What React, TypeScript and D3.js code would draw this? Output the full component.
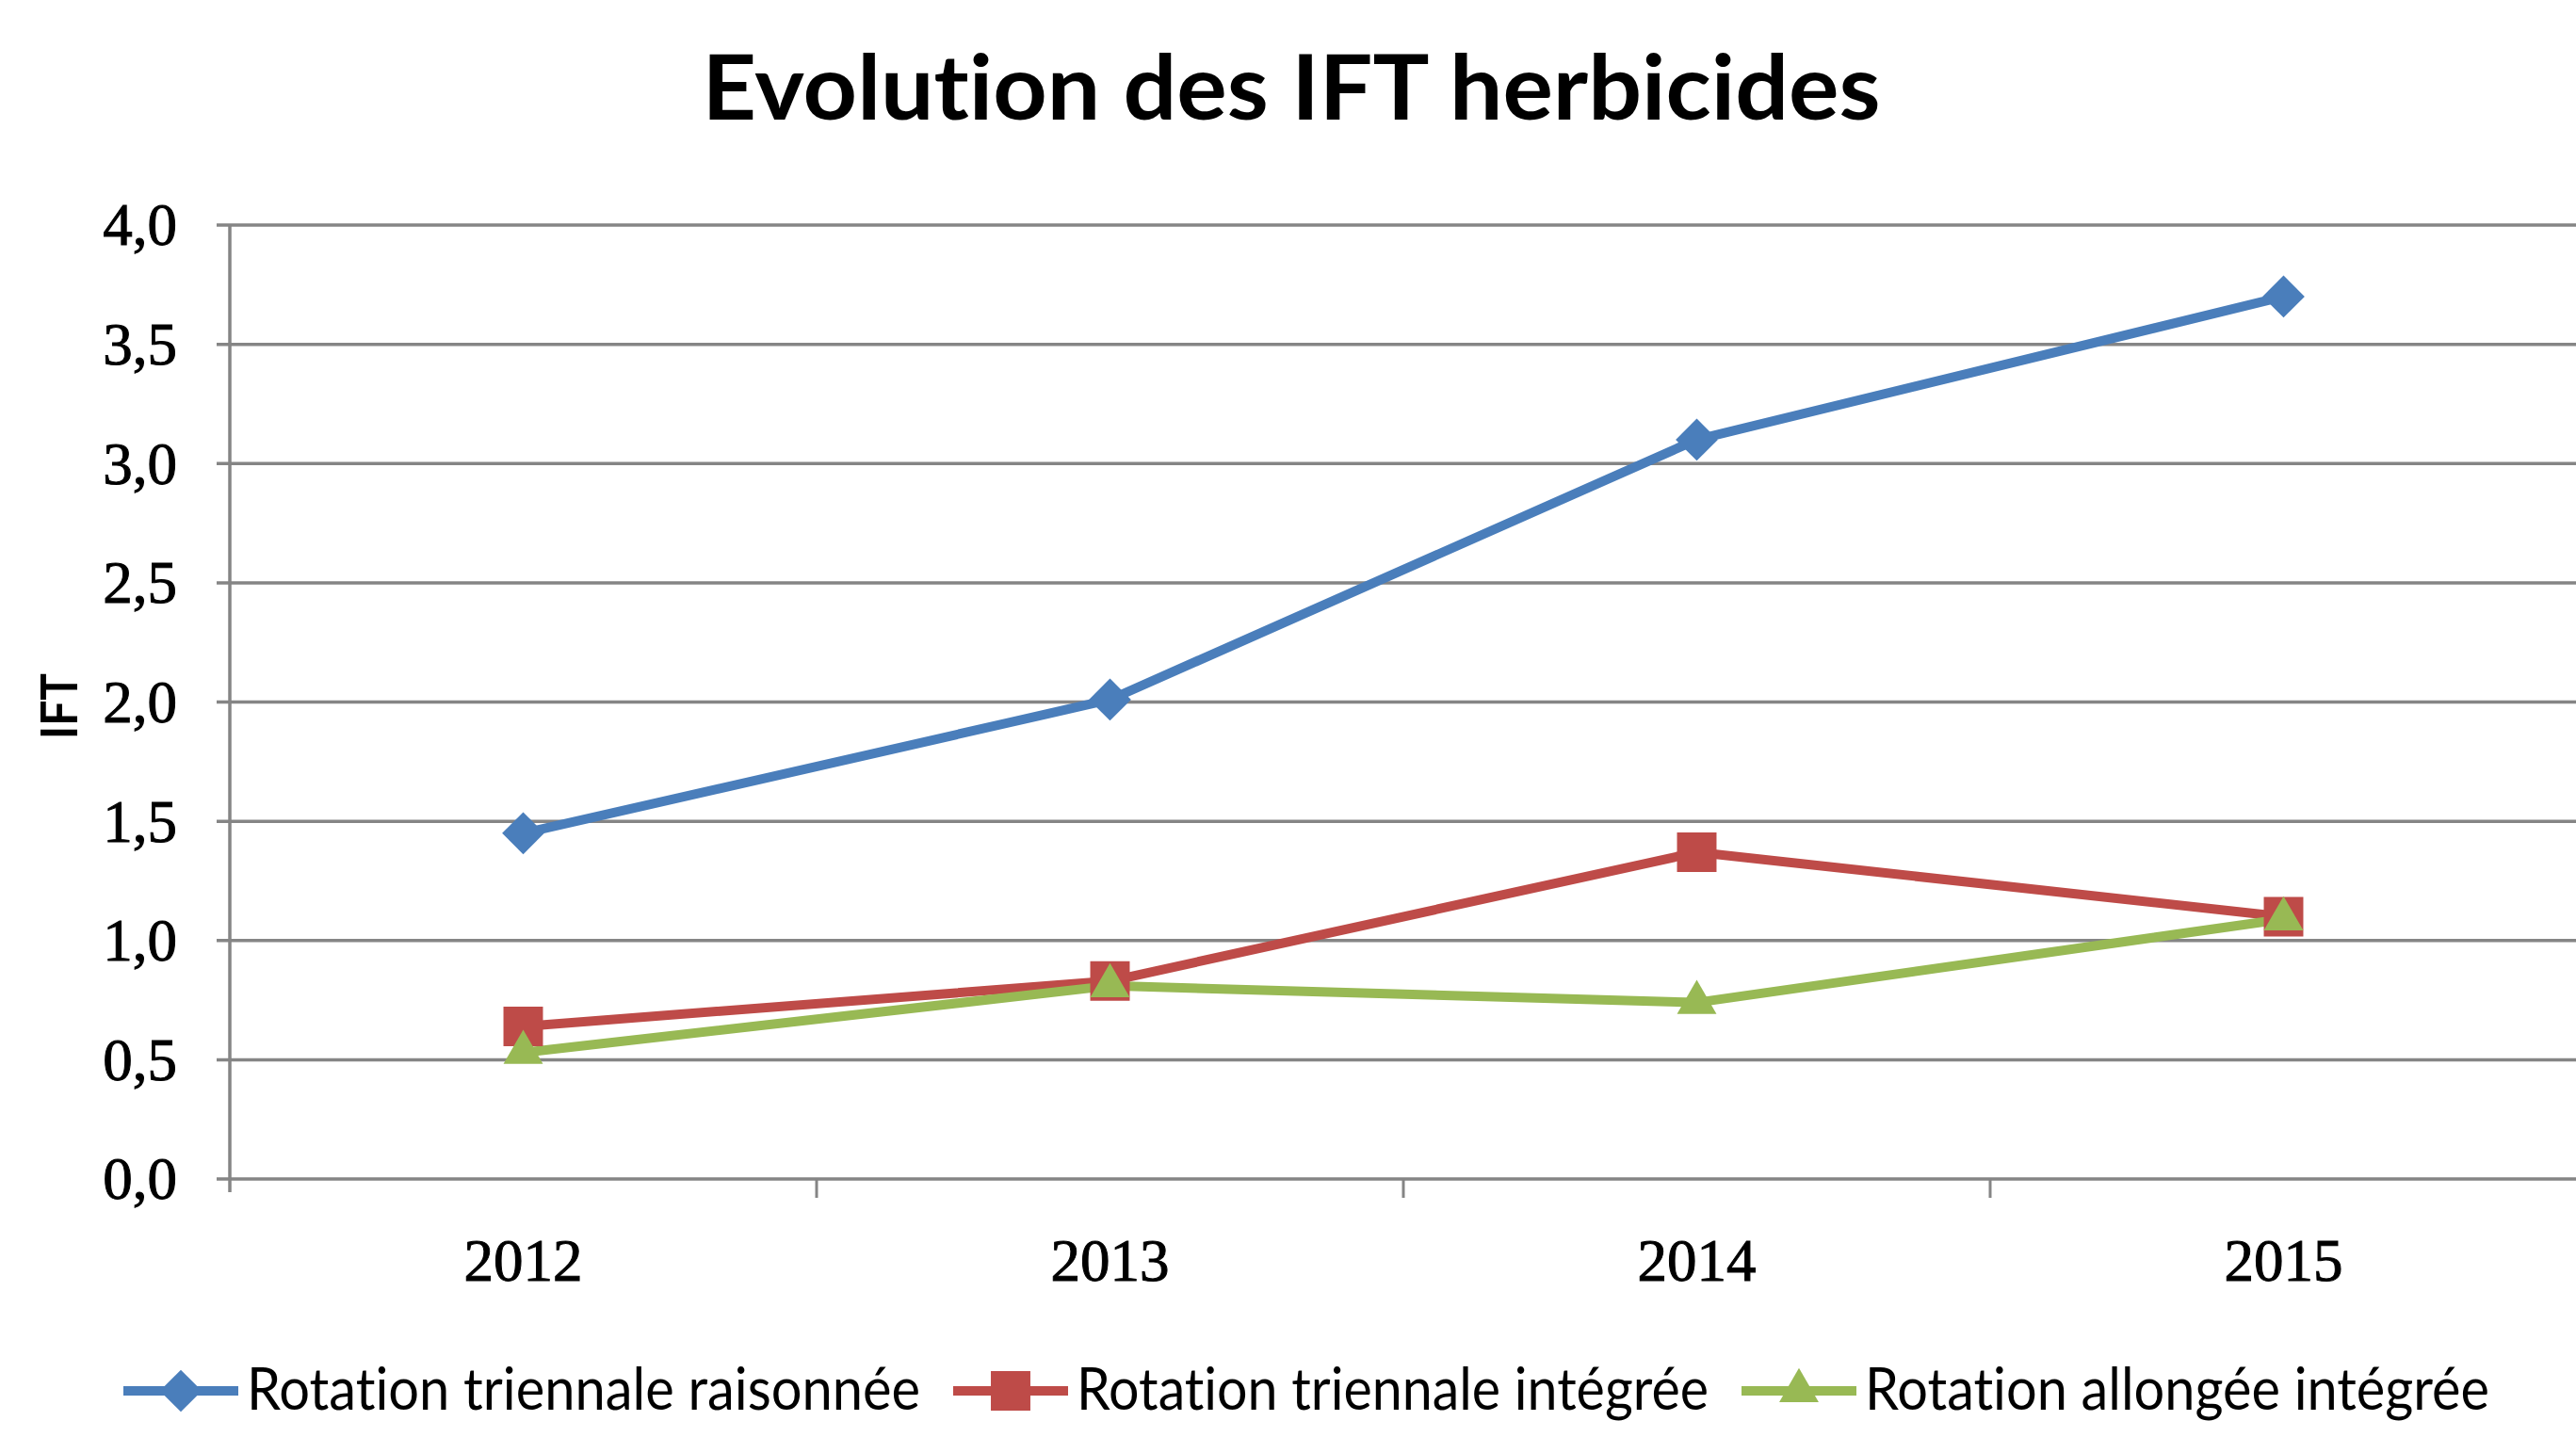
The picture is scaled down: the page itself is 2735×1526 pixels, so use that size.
import React, { useEffect, useRef } from 'react';
import * as d3 from 'd3';

const categories = ['2012', '2013', '2014', '2015'];
const seriesNames = [
  'Rotation triennale raisonnée',
  'Rotation triennale intégrée',
  'Rotation allongée intégrée',
];
const raisonnee = [1.45, 2.01, 3.1, 3.7];
const triennaleIntegree = [0.64, 0.83, 1.37, 1.1];
const allongeeIntegree = [0.53, 0.81, 0.74, 1.09];
const yTicks = [0, 0.5, 1, 1.5, 2, 2.5, 3, 3.5, 4];

const W = 2735;
const H = 1526;

const App = () => {
  const ref = useRef<SVGSVGElement>(null);

  useEffect(() => {
    const svg = d3.select(ref.current);
    svg.selectAll('*').remove();
    svg.attr('width', W).attr('height', H).style('background', '#fff');

    const left = 244;
    const top = 239;
    const bottom = 1252;

    const x = d3.scaleBand().domain(categories).range([left, left + 4 * 623]);
    const y = d3.scaleLinear().domain([0, 4]).range([bottom, top]);
    const cx = (c: string) => (x(c) as number) + x.bandwidth() / 2;

    const series = [
      { name: seriesNames[0], values: raisonnee, color: '#4A7EBB', marker: 'diamond', textW: 715 },
      { name: seriesNames[1], values: triennaleIntegree, color: '#BE4B48', marker: 'square', textW: 671 },
      { name: seriesNames[2], values: allongeeIntegree, color: '#98B954', marker: 'triangle', textW: 663 },
    ];

    const markerPath = (m: string) => {
      if (m === 'diamond') return d3.symbol().type(d3.symbolSquare).size(1000)();
      if (m === 'square') return d3.symbol().type(d3.symbolSquare).size(1760)();
      return d3.symbol().type(d3.symbolTriangle).size(760)();
    };

    // Title
    svg.append('text')
      .attr('x', 1371)
      .attr('y', 127)
      .attr('text-anchor', 'middle')
      .attr('textLength', 1251)
      .attr('lengthAdjust', 'spacingAndGlyphs')
      .style('font-family', 'Lato, sans-serif')
      .style('font-weight', 'bold')
      .style('font-size', '96px')
      .style('font-variant-ligatures', 'none')
      .style('fill', '#000')
      .text('Evolution des IFT herbicides');

    // Gridlines
    svg.append('g')
      .selectAll('line')
      .data(yTicks)
      .enter()
      .append('line')
      .attr('x1', left - 14)
      .attr('x2', W)
      .attr('y1', d => y(d))
      .attr('y2', d => y(d))
      .attr('stroke', '#858585')
      .attr('stroke-width', 3.5);

    // Y axis line
    svg.append('line')
      .attr('x1', left).attr('x2', left)
      .attr('y1', top).attr('y2', bottom + 14)
      .attr('stroke', '#858585')
      .attr('stroke-width', 3.5);

    // X ticks between categories
    svg.append('g')
      .selectAll('line')
      .data(categories.slice(1))
      .enter()
      .append('line')
      .attr('x1', d => x(d) as number)
      .attr('x2', d => x(d) as number)
      .attr('y1', bottom)
      .attr('y2', bottom + 20)
      .attr('stroke', '#858585')
      .attr('stroke-width', 3);

    // Y labels
    svg.append('g')
      .selectAll('text')
      .data(yTicks)
      .enter()
      .append('text')
      .attr('x', 188)
      .attr('y', d => y(d))
      .attr('dy', '0.34em')
      .attr('text-anchor', 'end')
      .style('font-family', '"Liberation Serif", serif')
      .style('font-size', '63px')
      .style('fill', '#000')
      .style('stroke', '#000')
      .style('stroke-width', 1)
      .text(d => d3.format('.1f')(d).replace('.', ','));

    // X labels
    svg.append('g')
      .selectAll('text')
      .data(categories)
      .enter()
      .append('text')
      .attr('x', d => cx(d))
      .attr('y', 1360)
      .attr('text-anchor', 'middle')
      .style('font-family', '"Liberation Serif", serif')
      .style('font-size', '63px')
      .style('fill', '#000')
      .style('stroke', '#000')
      .style('stroke-width', 1)
      .text(d => d);

    // Y axis title
    svg.append('text')
      .attr('transform', 'translate(82,750) rotate(-90)')
      .attr('text-anchor', 'middle')
      .attr('textLength', 70)
      .attr('lengthAdjust', 'spacingAndGlyphs')
      .style('font-family', 'Lato, sans-serif')
      .style('font-weight', 'bold')
      .style('font-size', '54px')
      .style('fill', '#000')
      .text('IFT');

    // Lines + markers
    const line = d3.line<number>()
      .x((d, i) => cx(categories[i]))
      .y(d => y(d));

    series.forEach(s => {
      svg.append('path')
        .datum(s.values)
        .attr('fill', 'none')
        .attr('stroke', s.color)
        .attr('stroke-width', 10)
        .attr('stroke-linejoin', 'round')
        .attr('d', line);
    });

    series.forEach(s => {
      svg.append('g')
        .selectAll('path')
        .data(s.values)
        .enter()
        .append('path')
        .attr('d', markerPath(s.marker))
        .attr('transform', (d, i) =>
          `translate(${cx(categories[i])},${y(d)})` + (s.marker === 'diamond' ? ' rotate(45)' : ''))
        .attr('fill', s.color);
    });

    // Legend
    const ly = 1477;
    let lx = 131;
    series.forEach(s => {
      const g = svg.append('g');
      g.append('line')
        .attr('x1', lx).attr('x2', lx + 122)
        .attr('y1', ly).attr('y2', ly)
        .attr('stroke', s.color)
        .attr('stroke-width', 10);
      g.append('path')
        .attr('d', markerPath(s.marker))
        .attr('transform', `translate(${lx + 61},${ly})` + (s.marker === 'diamond' ? ' rotate(45)' : ''))
        .attr('fill', s.color);
      g.append('text')
        .attr('x', lx + 131)
        .attr('y', 1497)
        .attr('textLength', s.textW)
        .attr('lengthAdjust', 'spacingAndGlyphs')
        .style('font-family', 'Lato, sans-serif')
        .style('font-size', '62px')
        .style('font-variant-ligatures', 'none')
        .style('fill', '#000')
        .text(s.name);
      lx += 131 + s.textW + 35;
    });
  }, []);

  return <svg ref={ref} style={{ position: 'absolute', left: 0, top: 0 }}></svg>;
};

export default App;
